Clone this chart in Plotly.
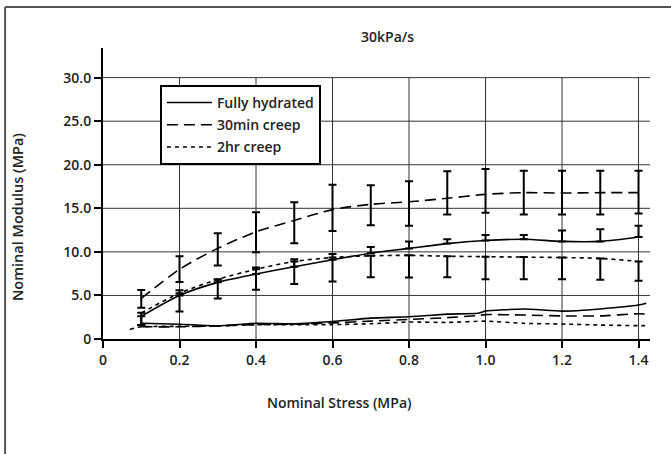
import plotly.graph_objects as go

# ---------------- data ----------------
stress = [0.1, 0.2, 0.3, 0.4, 0.5, 0.6, 0.7, 0.8, 0.9, 1.0, 1.1, 1.2, 1.3, 1.4]

# upper (error-bar) curves
hydrated_upper = [2.6, 5.0, 6.5, 7.45, 8.3, 9.1, 9.85, 10.4, 10.95, 11.3, 11.45, 11.2, 11.2, 11.7]
hydrated_plus = [0.0, 0.6, 0.3, 0.75, 0.85, 0.65, 0.7, 0.8, 0.5, 0.65, 0.5, 1.25, 1.4, 1.3]
hydrated_minus = [1.0, 0, 0, 0, 0, 0, 0, 0, 0, 0, 0, 0, 0, 0]

creep30_upper = [4.65, 8.0, 10.4, 12.3, 13.6, 14.85, 15.45, 15.75, 16.15, 16.6, 16.8, 16.75, 16.8, 16.8]
creep30_plus = [0.98, 1.5, 1.75, 2.25, 2.1, 2.85, 2.2, 2.35, 3.1, 2.9, 2.5, 2.55, 2.5, 2.5]
creep30_minus = [1.07, 1.45, 1.97, 2.35, 2.6, 2.45, 2.4, 2.75, 1.85, 2.1, 2.5, 2.45, 2.5, 2.4]

creep2h_upper = [3.0, 5.25, 6.85, 8.0, 8.9, 9.35, 9.55, 9.6, 9.5, 9.45, 9.4, 9.35, 9.25, 8.9]
creep2h_plus = [0, 0, 0, 0, 0, 0, 0, 0, 0, 0, 0, 0, 0, 0]
creep2h_minus = [1.4, 2.1, 2.2, 2.35, 2.6, 2.75, 2.45, 2.55, 2.4, 2.6, 2.55, 2.5, 2.45, 2.2]

# lower curves (no error bars)
stress_low = [0.1, 0.2, 0.3, 0.4, 0.5, 0.6, 0.7, 0.8, 0.9, 0.98, 1.0, 1.1, 1.2, 1.3, 1.4, 1.42]
hydrated_lower = [1.8, 1.7, 1.5, 1.8, 1.75, 2.0, 2.4, 2.55, 2.85, 2.95, 3.2, 3.45, 3.2, 3.45, 3.9, 4.1]
creep30_lower = [1.4, 1.4, 1.5, 1.65, 1.7, 1.85, 2.05, 2.25, 2.45, 2.7, 2.8, 2.75, 2.65, 2.65, 2.9, 2.85]
stress_low_2h = [0.07, 0.1, 0.2, 0.3, 0.4, 0.5, 0.6, 0.7, 0.8, 0.9, 1.0, 1.1, 1.2, 1.3, 1.4, 1.42]
creep2h_lower = [1.1, 1.4, 1.45, 1.5, 1.65, 1.65, 1.65, 1.75, 1.95, 1.9, 2.05, 1.8, 1.72, 1.6, 1.53, 1.53]

series_names = ["Fully hydrated", "30min creep", "2hr creep"]

x_ticks = [0, 0.2, 0.4, 0.6, 0.8, 1.0, 1.2, 1.4]
x_tick_labels = ["0", "0.2", "0.4", "0.6", "0.8", "1.0", "1.2", "1.4"]
y_ticks = [0, 5, 10, 15, 20, 25, 30]
y_tick_labels = ["0", "5.0", "10.0", "15.0", "20.0", "25.0", "30.0"]
x_max = 1.43
y_max = 33.4

# ---------------- styles ----------------
FONT = "Open Sans"
TXT = "#222222"
W = 600
dashes = ["solid", "11px,6px", "4px,4px"]


def f(size):
    return dict(family=FONT, size=size, color=TXT, weight=W)


fig = go.Figure()

uppers = [
    (hydrated_upper, hydrated_plus, hydrated_minus),
    (creep30_upper, creep30_plus, creep30_minus),
    (creep2h_upper, creep2h_plus, creep2h_minus),
]
for i, (yv, ep, em) in enumerate(uppers):
    fig.add_trace(go.Scatter(
        x=stress, y=yv, mode="lines", name=series_names[i],
        legendgroup=series_names[i],
        line=dict(color="black", width=1.6, dash=dashes[i], shape="spline", smoothing=0.8),
        error_y=dict(type="data", symmetric=False, array=ep, arrayminus=em,
                     color="black", thickness=2, width=4),
    ))

lowers = [(stress_low, hydrated_lower), (stress_low, creep30_lower), (stress_low_2h, creep2h_lower)]
for i, (xv, yv) in enumerate(lowers):
    fig.add_trace(go.Scatter(
        x=xv, y=yv, mode="lines", name=series_names[i], showlegend=False,
        legendgroup=series_names[i],
        line=dict(color="black", width=1.6, dash=dashes[i], shape="spline", smoothing=0.5),
    ))

shapes = []
for v in x_ticks[1:]:
    shapes.append(dict(type="line", xref="x", yref="y", x0=v, x1=v, y0=0, y1=y_ticks[-1],
                       line=dict(color="#333333", width=1), layer="below"))
for h in y_ticks[1:]:
    shapes.append(dict(type="line", xref="x", yref="y", x0=0, x1=x_max, y0=h, y1=h,
                       line=dict(color="#333333", width=1), layer="below"))
# outer frame (top and left edges visible)
shapes.append(dict(type="line", xref="paper", yref="paper", x0=-0.179, x1=1.2, y0=1.141, y1=1.141,
                   line=dict(color="#555555", width=2)))
shapes.append(dict(type="line", xref="paper", yref="paper", x0=-0.179, x1=-0.179, y0=1.141, y1=-0.6,
                   line=dict(color="#555555", width=2)))

annotations = [
    dict(text="30kPa/s", xref="paper", yref="paper", x=0.52, y=1.041, showarrow=False,
         xanchor="center", yanchor="middle", font=f(14)),
    dict(text="Nominal Stress (MPa)", xref="paper", yref="paper", x=0.431, y=-0.2165, showarrow=False,
         xanchor="center", yanchor="middle", font=f(14)),
    dict(text="Nominal Modulus (MPa)", xref="paper", yref="paper", x=-0.155, y=0.42, showarrow=False,
         textangle=-90, xanchor="center", yanchor="middle", font=f(14.5)),
]

fig.update_layout(
    width=671, height=454,
    margin=dict(l=103, r=21, t=48, b=115),
    paper_bgcolor="white", plot_bgcolor="white",
    font=f(14),
    shapes=shapes, annotations=annotations,
    legend=dict(x=0.104, y=0.873, xanchor="left", yanchor="top",
                bgcolor="white", bordercolor="black", borderwidth=2,
                font=f(14), itemwidth=45,
                tracegroupgap=1, traceorder="grouped"),
    xaxis=dict(range=[0, x_max], tickvals=x_ticks, ticktext=x_tick_labels,
               showgrid=False, zeroline=False, showline=True, linecolor="black", linewidth=2,
               ticks="outside", ticklen=7, tickwidth=1.5, tickcolor="black",
               tickfont=f(14)),
    yaxis=dict(range=[0, y_max], tickvals=y_ticks, ticktext=y_tick_labels,
               showgrid=False, zeroline=False, showline=True, linecolor="black", linewidth=2,
               ticks="outside", ticklen=7, tickwidth=1.5, tickcolor="black",
               tickfont=f(14)),
)

fig.write_html("out.html")
